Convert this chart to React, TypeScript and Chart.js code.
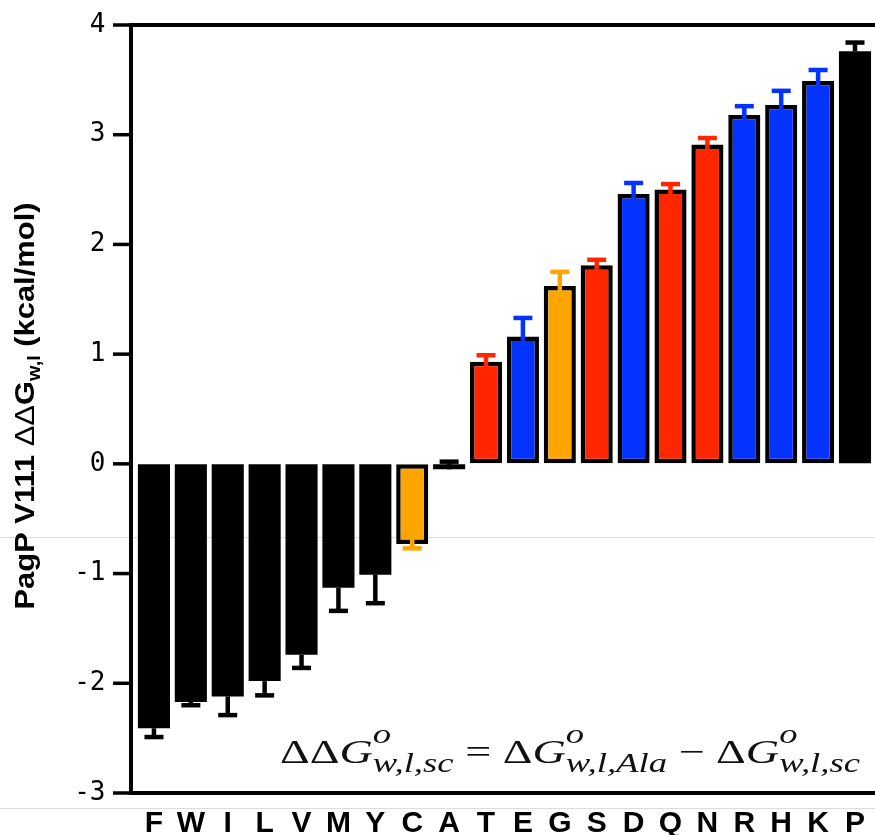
import React, { useEffect, useRef } from "react";
import { Chart, registerables } from "chart.js";

Chart.register(...registerables);

const categories = ["F", "W", "I", "L", "V", "M", "Y", "C", "A", "T", "E", "G", "S", "D", "Q", "N", "R", "H", "K", "P"];
const values = [-2.41, -2.17, -2.12, -1.98, -1.74, -1.13, -1.01, -0.73, -0.05, 0.93, 1.16, 1.62, 1.81, 2.46, 2.5, 2.91, 3.18, 3.27, 3.49, 3.76];
// signed error-bar extents (negative = drawn downward)
const errors = [-0.08, -0.03, -0.17, -0.13, -0.12, -0.21, -0.26, -0.04, 0.07, 0.06, 0.17, 0.13, 0.05, 0.1, 0.05, 0.06, 0.08, 0.13, 0.1, 0.08];
const groups = ["np", "np", "np", "np", "np", "np", "np", "sp", "np", "po", "ch", "sp", "po", "ch", "po", "po", "ch", "ch", "ch", "np"];
const yTicks = [-3, -2, -1, 0, 1, 2, 3, 4];

const groupColors: Record<string, string> = {
  np: "#000000",
  sp: "#FFA500",
  po: "#FF2600",
  ch: "#0433FF",
};

const barColors = groups.map((g) => groupColors[g]);

type Seg =
  | { kind: "t"; t: string; font: string }
  | { kind: "ss"; sup: string; sub: string; font: string; supDy: number; subDy: number };

function segWidth(ctx: CanvasRenderingContext2D, s: Seg) {
  ctx.font = s.font;
  if (s.kind === "t") return ctx.measureText(s.t).width;
  return Math.max(ctx.measureText(s.sup).width, ctx.measureText(s.sub).width);
}

function drawSegs(ctx: CanvasRenderingContext2D, segs: Seg[]) {
  let x = 0;
  ctx.textBaseline = "alphabetic";
  ctx.textAlign = "left";
  for (const s of segs) {
    ctx.font = s.font;
    if (s.kind === "t") {
      ctx.fillText(s.t, x, 0);
    } else {
      if (s.sup) ctx.fillText(s.sup, x, s.supDy);
      if (s.sub) ctx.fillText(s.sub, x, s.subDy);
    }
    x += segWidth(ctx, s);
  }
  return x;
}

const AXIS_X = 131;

const decorPlugin = {
  id: "decor",
  beforeDraw(chart: any) {
    const ctx = chart.ctx as CanvasRenderingContext2D;
    ctx.save();
    ctx.strokeStyle = "#dcdcdc";
    ctx.lineWidth = 1;
    for (const yy of [537.5, 808.5]) {
      ctx.beginPath();
      ctx.moveTo(0, yy);
      ctx.lineTo(chart.width, yy);
      ctx.stroke();
    }
    ctx.restore();
  },
  beforeDatasetsDraw(chart: any) {
    const ctx = chart.ctx as CanvasRenderingContext2D;
    const area = chart.chartArea;
    const yScale = chart.scales.y;
    ctx.save();
    ctx.strokeStyle = "#000";
    ctx.lineWidth = 4;
    ctx.lineCap = "butt";
    ctx.beginPath();
    ctx.moveTo(AXIS_X, area.top - 2);
    ctx.lineTo(AXIS_X, area.bottom + 2);
    ctx.stroke();
    ctx.beginPath();
    ctx.moveTo(AXIS_X - 2, area.top);
    ctx.lineTo(chart.width, area.top);
    ctx.moveTo(AXIS_X - 2, area.bottom);
    ctx.lineTo(chart.width, area.bottom);
    ctx.stroke();
    ctx.lineWidth = 3.5;
    for (const v of yTicks) {
      const py = yScale.getPixelForValue(v);
      ctx.beginPath();
      ctx.moveTo(AXIS_X - 18, py);
      ctx.lineTo(AXIS_X, py);
      ctx.stroke();
    }
    ctx.restore();
  },
  afterDatasetsDraw(chart: any) {
    const ctx = chart.ctx as CanvasRenderingContext2D;
    const yScale = chart.scales.y;
    const meta = chart.getDatasetMeta(0);
    ctx.save();
    meta.data.forEach((bar: any, i: number) => {
      const v = values[i];
      const e = errors[i];
      const color = barColors[i];
      const y0 = yScale.getPixelForValue(v);
      const y1 = yScale.getPixelForValue(v + e);
      const dir = y1 > y0 ? -1 : 1;
      const start = color === "#000000" ? y0 : y0 + dir * 6;
      ctx.strokeStyle = color;
      ctx.lineWidth = 4.5;
      ctx.lineCap = "butt";
      ctx.beginPath();
      ctx.moveTo(bar.x, start);
      ctx.lineTo(bar.x, y1);
      ctx.stroke();
      ctx.beginPath();
      ctx.moveTo(bar.x - 9.5, y1);
      ctx.lineTo(bar.x + 9.5, y1);
      ctx.stroke();
    });
    ctx.restore();
  },
  afterDraw(chart: any) {
    const ctx = chart.ctx as CanvasRenderingContext2D;
    ctx.save();
    const tFont = "bold 28px 'Liberation Sans', Arial, sans-serif";
    const tFontN = "28px 'Liberation Sans', Arial, sans-serif";
    const tSub = "bold 18px 'Liberation Sans', Arial, sans-serif";
    const title: Seg[] = [
      { kind: "t", t: "PagP V111 ", font: tFont },
      { kind: "t", t: "ΔΔ", font: tFontN },
      { kind: "t", t: "G", font: tFont },
      { kind: "ss", sup: "", sub: "w,l", font: tSub, supDy: 0, subDy: 6 },
      { kind: "t", t: " (kcal/mol)", font: tFont },
    ];
    let tw = 0;
    for (const s of title) tw += segWidth(ctx, s);
    const targetLen = 407;
    ctx.fillStyle = "#000";
    ctx.save();
    ctx.translate(34, 406);
    ctx.rotate(-Math.PI / 2);
    ctx.scale(targetLen / tw, 1);
    ctx.translate(-tw / 2, 0);
    drawSegs(ctx, title);
    ctx.restore();

    const serif = "'Liberation Serif', 'DejaVu Serif', serif";
    const mUp = `34px ${serif}`;
    const mIt = `italic 34px ${serif}`;
    const sIt = `italic 27px ${serif}`;
    const eq: Seg[] = [
      { kind: "t", t: "ΔΔ", font: mUp },
      { kind: "t", t: "G", font: mIt },
      { kind: "ss", sup: "o", sub: "w,l,sc", font: sIt, supDy: -20, subDy: 9 },
      { kind: "t", t: " = ", font: mUp },
      { kind: "t", t: "Δ", font: mUp },
      { kind: "t", t: "G", font: mIt },
      { kind: "ss", sup: "o", sub: "w,l,Ala", font: sIt, supDy: -20, subDy: 9 },
      { kind: "t", t: " − ", font: mUp },
      { kind: "t", t: "Δ", font: mUp },
      { kind: "t", t: "G", font: mIt },
      { kind: "ss", sup: "o", sub: "w,l,sc", font: sIt, supDy: -20, subDy: 9 },
    ];
    let ew = 0;
    for (const s of eq) ew += segWidth(ctx, s);
    const eqLeft = 280;
    const eqRight = 860;
    ctx.save();
    ctx.fillStyle = "#111";
    ctx.translate(eqLeft, 763);
    ctx.scale((eqRight - eqLeft) / ew, 1);
    drawSegs(ctx, eq);
    ctx.restore();
    ctx.restore();
  },
};

export default function App() {
  const ref = useRef<HTMLCanvasElement | null>(null);
  useEffect(() => {
    document.body.style.margin = "0";
    document.body.style.overflow = "hidden";
    const canvas = ref.current!;
    const chart = new Chart(canvas, {
      type: "bar",
      data: {
        labels: categories,
        datasets: [
          {
            data: values,
            backgroundColor: barColors,
            borderColor: "#000000",
            borderWidth: barColors.map((c) => (c === "#000000" ? 0 : 4.5)),
            borderSkipped: false,
            categoryPercentage: 1,
            barPercentage: 0.87,
          },
        ],
      },
      options: {
        responsive: false,
        animation: false,
        devicePixelRatio: 1,
        layout: { padding: { top: 25, left: 0, right: 0, bottom: 0 } },
        plugins: {
          legend: { display: false },
          tooltip: { enabled: false },
          title: { display: false },
        },
        scales: {
          x: {
            grid: { display: false, drawTicks: false },
            border: { display: false },
            ticks: {
              color: "#000",
              padding: 13,
              autoSkip: false,
              maxRotation: 0,
              font: { family: "'Liberation Sans', Arial, sans-serif", size: 30, weight: "bold" },
            },
            afterFit: (s: any) => {
              s.height = 42;
            },
          },
          y: {
            min: -3,
            max: 4,
            afterBuildTicks: (s: any) => {
              s.ticks = yTicks.map((v) => ({ value: v }));
            },
            grid: {
              display: true,
              drawOnChartArea: false,
              drawTicks: true,
              tickLength: 22,
              tickColor: "rgba(0,0,0,0)",
              color: "rgba(0,0,0,0)",
            },
            border: { display: false },
            ticks: {
              color: "#000",
              padding: 8,
              font: { family: "'DejaVu Sans Mono', monospace", size: 26 },
              callback: (v: any) => String(v),
            },
            afterFit: (s: any) => {
              s.width = 135.5;
            },
          },
        },
      },
      plugins: [decorPlugin],
    } as any);
    return () => chart.destroy();
  }, []);
  return (
    <div style={{ width: 875, height: 835, overflow: "hidden" }}>
      <canvas
        ref={ref}
        width={878}
        height={835}
        style={{ display: "block", width: 878, height: 835 }}
      />
    </div>
  );
}
